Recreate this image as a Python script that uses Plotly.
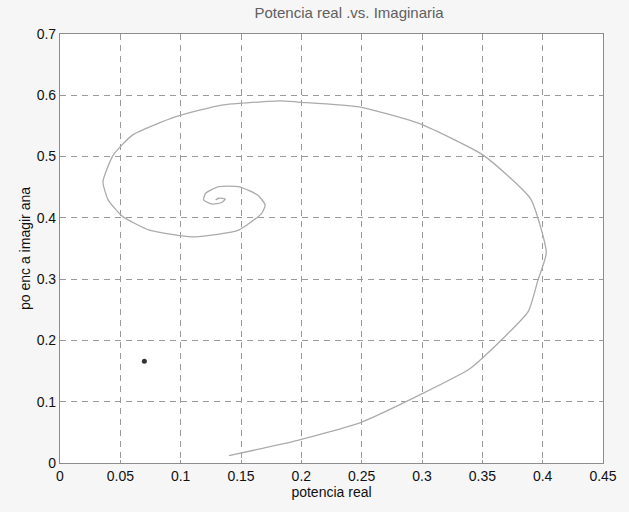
import plotly.graph_objects as go

# Trajectory (potencia real, potencia imaginaria)
p_real = [0.140, 0.197, 0.249, 0.299, 0.339, 0.351, 0.388, 0.396, 0.403, 0.390,
          0.351, 0.299, 0.248, 0.197, 0.1835, 0.134, 0.096, 0.060, 0.044, 0.0356,
          0.040, 0.052, 0.074, 0.112, 0.148, 0.167, 0.170, 0.164, 0.148, 0.1315,
          0.1206, 0.119, 0.126, 0.134, 0.137, 0.1315, 0.129]
p_imag = [0.012, 0.037, 0.066, 0.112, 0.153, 0.173, 0.247, 0.298, 0.343, 0.431,
          0.502, 0.553, 0.581, 0.589, 0.591, 0.584, 0.565, 0.535, 0.502, 0.459,
          0.429, 0.402, 0.380, 0.369, 0.380, 0.407, 0.421, 0.437, 0.451, 0.451,
          0.440, 0.429, 0.4225, 0.425, 0.431, 0.432, 0.429]

# scan speck visible in the picture
speck_x = [0.0699]
speck_y = [0.166]

x_ticks = [0, 0.05, 0.1, 0.15, 0.2, 0.25, 0.3, 0.35, 0.4, 0.45]
x_labels = ["0", "0.05", "0.1", "0.15", "0.2", "0.25", "0.3", "0.35", "0.4", "0.45"]
y_ticks = [0, 0.1, 0.2, 0.3, 0.4, 0.5, 0.6, 0.7]
y_labels = ["0", "0.1", "0.2", "0.3", "0.4", "0.5", "0.6", "0.7"]

fig = go.Figure()
fig.add_trace(go.Scatter(x=p_real, y=p_imag, mode="lines",
                         line=dict(color="#ababab", width=1.3, shape="spline", smoothing=0.5),
                         showlegend=False, hoverinfo="skip"))
fig.add_trace(go.Scatter(x=speck_x, y=speck_y, mode="markers",
                         marker=dict(color="#333333", size=5, symbol="circle"),
                         showlegend=False, hoverinfo="skip"))

axis_common = dict(
    showgrid=True, gridcolor="#9a9a9a", griddash="6px,5px", gridwidth=1,
    zeroline=False, showline=True, linecolor="#8c8c8c", linewidth=1.2,
    mirror=True, ticks="inside", ticklen=3, tickcolor="#9a9a9a",
    tickfont=dict(family="Liberation Sans, Arial", size=14, color="#111111"),
)

fig.update_layout(
    width=629, height=512,
    margin=dict(l=60, r=20, t=34, b=49),
    paper_bgcolor="#f6f6f6", plot_bgcolor="#ffffff",
    title=dict(text="Potencia real .vs. Imaginaria", x=0.555, xanchor="center",
               y=0.975, yanchor="middle",
               font=dict(family="Liberation Sans, Arial", size=15, color="#606060")),
    xaxis=dict(range=[0, 0.45], tickvals=x_ticks, ticktext=x_labels,
               title=dict(text="potencia real", standoff=3,
                          font=dict(family="Liberation Sans, Arial", size=14, color="#111111")),
               **axis_common),
    yaxis=dict(range=[0, 0.7], tickvals=y_ticks, ticktext=y_labels,
               title=dict(text="po enc a imagir ana", standoff=2,
                          font=dict(family="Liberation Sans, Arial", size=14, color="#111111")),
               **axis_common),
)

fig.write_html("out.html")
